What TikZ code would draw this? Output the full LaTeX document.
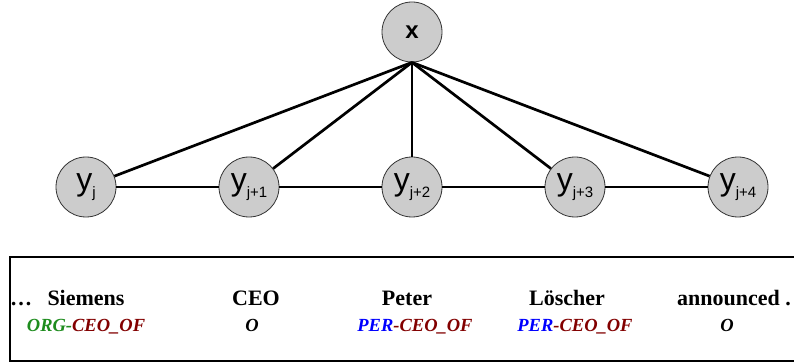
\documentclass[tikz,border=0pt]{standalone}
\usepackage{fontspec}
\setmainfont{Liberation Serif}
\setsansfont{Liberation Sans}
\definecolor{orgcol}{RGB}{30,140,30}
\definecolor{relcol}{RGB}{130,0,0}
\definecolor{percol}{RGB}{0,0,255}
\definecolor{nodefill}{RGB}{204,204,204}
\newcommand{\yvar}[1]{{\fontsize{32}{32}\selectfont y}\raisebox{-7pt}{\fontsize{15}{15}\selectfont #1}}
\tikzset{
  var/.style={circle, draw=black!80, line width=0.8pt, fill=nodefill,
    minimum size=60pt, inner sep=0pt, font=\sffamily},
  link/.style={line width=2.7pt},
  word/.style={anchor=base, inner sep=0pt, font=\bfseries\fontsize{22}{22}\selectfont},
  tag/.style={anchor=base, inner sep=0pt, font=\bfseries\itshape\fontsize{18.5}{18.5}\selectfont},
  frame/.style={draw=black, line width=2.6pt}
}
\begin{document}
\begin{tikzpicture}[x=1pt, y=-1pt]
  \useasboundingbox (0,0) rectangle (794,363);
  \clip (0,0) rectangle (794,363);

  % hidden variable and the chain of output labels
  \node[var, font=\sffamily\bfseries\fontsize{24}{24}\selectfont] (x) at (412,32) {x};
  \node[var] (y0) at (86,187)  {\yvar{j}};
  \node[var] (y1) at (249,187) {\yvar{j+1}};
  \node[var] (y2) at (412,187) {\yvar{j+2}};
  \node[var] (y3) at (575,187) {\yvar{j+3}};
  \node[var] (y4) at (738,187) {\yvar{j+4}};

  \coordinate (hub) at (x.south);
  \foreach \k in {0,...,4} { \draw[link] (hub) -- (y\k); }
  \draw[link] (y0) -- (y1) -- (y2) -- (y3) -- (y4);

  % sentence box with tokens and tags
  \draw[frame] (10,257) rectangle (810,361);

  \node[word] (dots) at (21,305) {\dots};
  \node[word] (w1) at (86,305)  {Siemens};
  \node[word] (w2) at (256,305) {CEO};
  \node[word] (w3) at (407,305) {Peter};
  \node[word] (w4) at (567,305) {Löscher};
  \node[word] (w5) at (734,305) {announced .};

  \node[tag] (t1) at (86,331)  {\textcolor{orgcol}{ORG-}\textcolor{relcol}{CEO\_OF}};
  \node[tag] (t2) at (252,331) {O};
  \node[tag] (t3) at (415,331) {\textcolor{percol}{PER}\textcolor{relcol}{-CEO\_OF}};
  \node[tag] (t4) at (575,331) {\textcolor{percol}{PER}\textcolor{relcol}{-CEO\_OF}};
  \node[tag] (t5) at (727,331) {O};
\end{tikzpicture}
\end{document}
